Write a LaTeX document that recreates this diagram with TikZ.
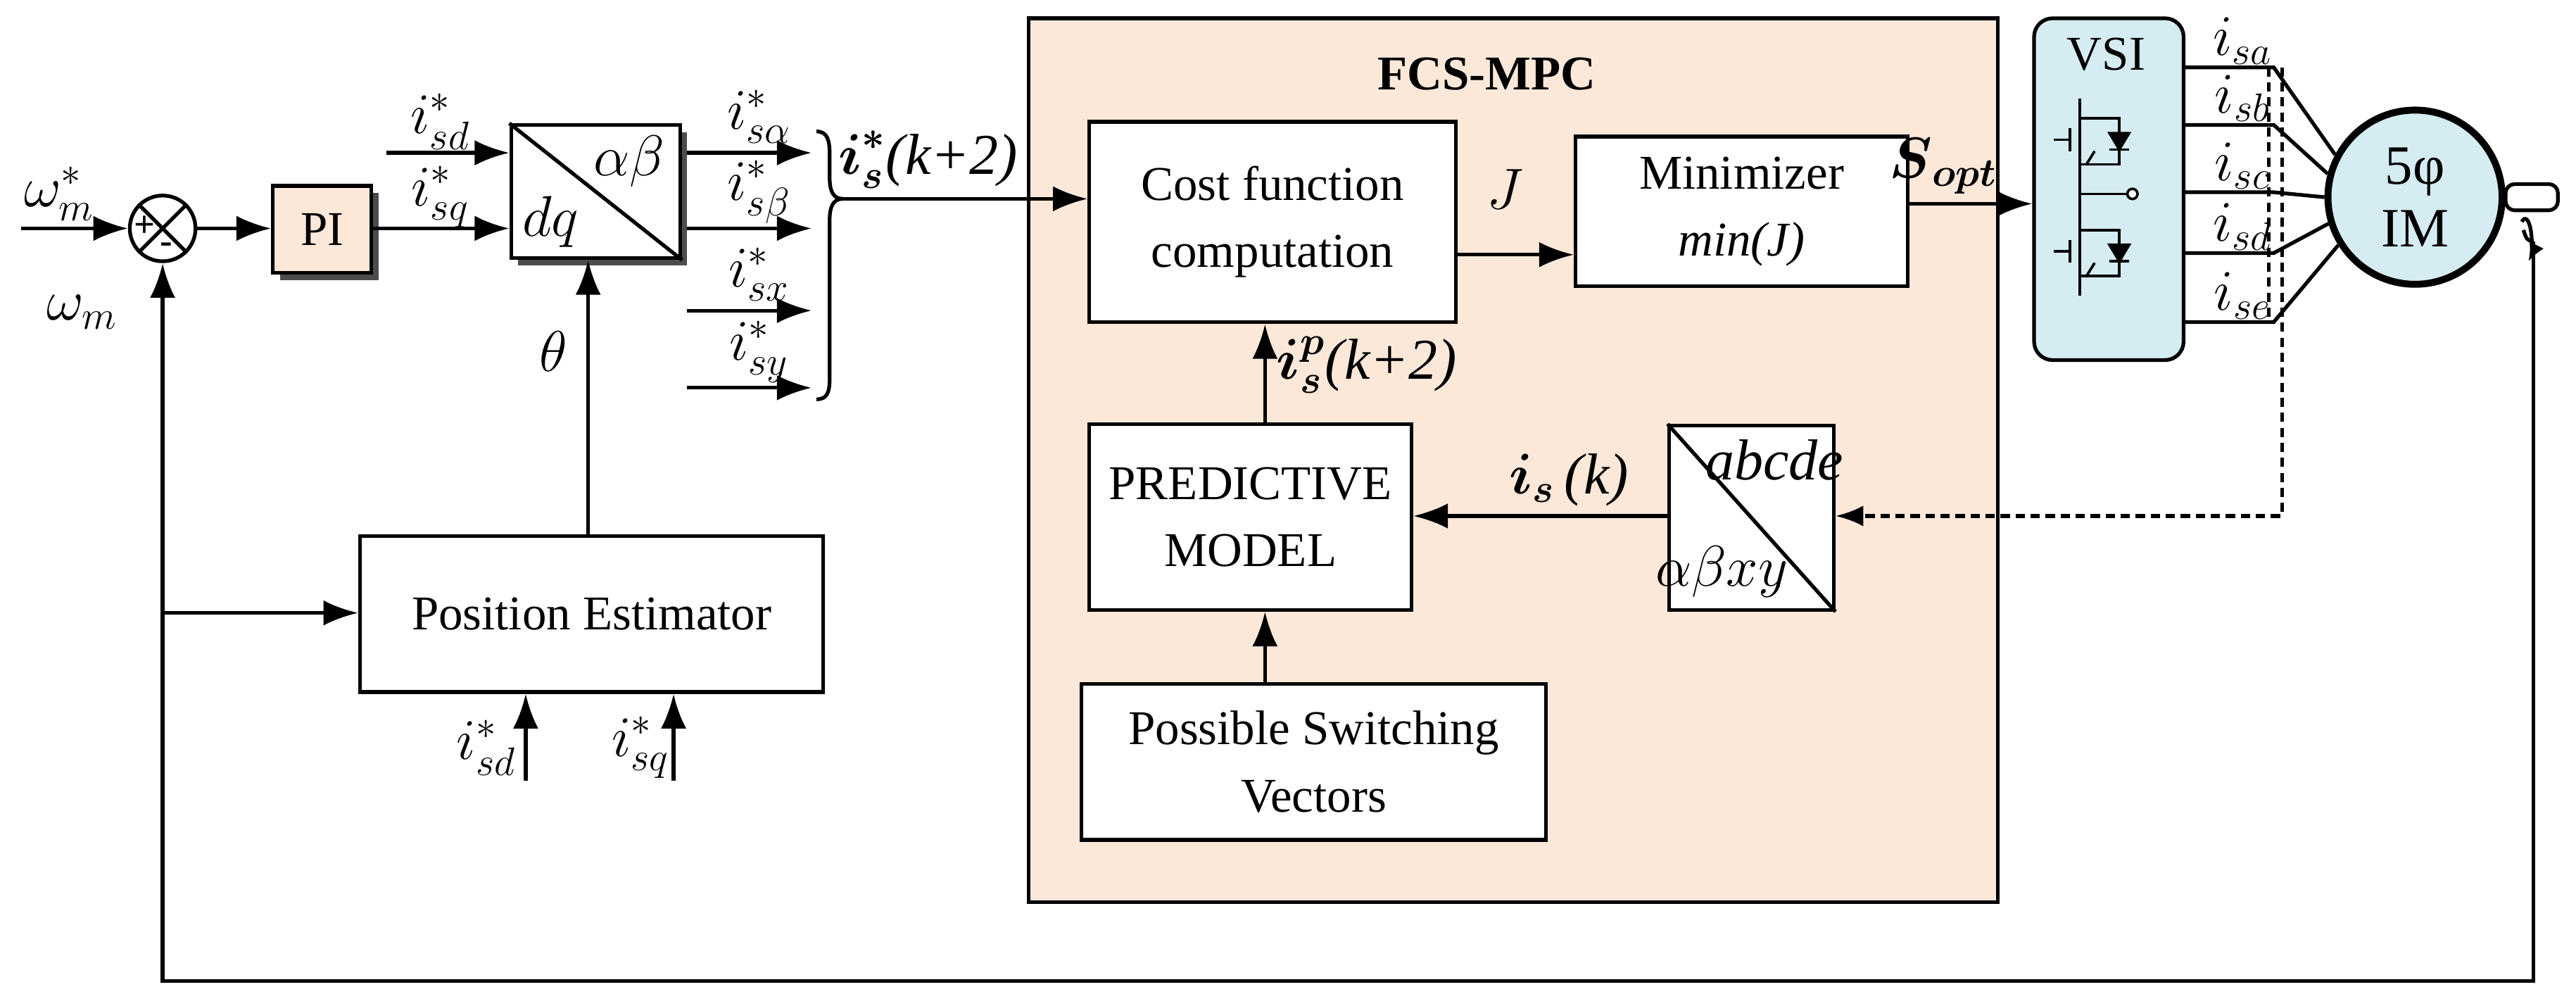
\documentclass[tikz,border=0pt]{standalone}
\usepackage{amsmath}
\usepackage{fontspec}
\setmainfont{Liberation Serif}
\usetikzlibrary{arrows.meta,shadows,calc}
\definecolor{peach}{RGB}{252,232,217}
\definecolor{lblue}{RGB}{212,236,242}
\begin{document}
\begin{tikzpicture}[x=0.25mm,y=-0.25mm,
  font=\fontsize{21}{25}\selectfont,
  lab/.style={font=\fontsize{25}{28}\selectfont},
  lw/.style={line width=1.6pt},
  ar/.style={lw,-{Latex[length=15pt,width=11pt]}},
  blk/.style={draw,lw,fill=white,align=center,inner sep=0pt},
  shd/.style={drop shadow={shadow xshift=3pt,shadow yshift=-3pt,fill=black!70,opacity=1}}]
\useasboundingbox (0,0) rectangle (1568,612);
% FCS-MPC frame
\node[draw,lw,fill=peach,minimum width=590*0.25mm,minimum height=538*0.25mm,anchor=north west] (mpc) at (625,10) {};
\node[font=\fontsize{21}{25}\selectfont\bfseries] (mpct) at (905,45) {FCS-MPC};
% sum
\node[draw,lw,circle,minimum size=40*0.25mm,inner sep=0pt] (sum) at (99,139) {};
\draw[lw] (sum.45)--(sum.225) (sum.135)--(sum.315);
\node[font=\bfseries\fontsize{16}{16}\selectfont] (plus) at (88,138) {+};
\node[font=\bfseries\fontsize{16}{16}\selectfont] (minus) at (101,151) {-};
\coordinate (win) at (13,139);
\node[lab] (wref) at (36,118) {$\omega_m^*$};
\node[lab] (wm) at (50,190) {$\omega_m$};
\draw[ar] (win)--(sum);
% PI
\node[blk,fill=peach,shd,minimum width=60*0.25mm,minimum height=53*0.25mm,anchor=north west] (pi) at (165,112) {};
\node (pit) at (pi.center) {PI};
\draw[ar] (sum.east)--(pi.west|-sum.east);
% dq box
\node[blk,shd,minimum width=103*0.25mm,minimum height=81*0.25mm,anchor=north west] (dq) at (310,75) {};
\draw[lw] (dq.north west)--(dq.south east);
\node[lab] (ab) at (383,98) {$\alpha\beta$};
\node[lab] (dqt) at (335,135) {$dq$};
\coordinate (isdin) at (235,93);
\coordinate (isqin) at (235,139);
\draw[ar] (isdin)--(isdin-|dq.west);
\draw[ar] (pi.east|-isqin)--(isqin-|dq.west);
\node[lab] (lsd) at (268,74) {$i_{sd}^*$};
\node[lab] (lsq) at (268,120) {$i_{sq}^*$};
% outputs
\foreach \y/\n/\t in {93/oa/{\alpha},139/ob/{\beta},189/ox/{x},236/oy/{y}}{
  \coordinate (\n s) at (418,\y); \coordinate (\n e) at (494,\y);
  \draw[ar] (\n s)--(\n e);
  \node[lab] (\n l) at (462,\y-22) {$i_{s\t}^*$};}
% brace
\coordinate (bt) at (513,121);
\draw[lw] (497,80) .. controls (504,80) and (505,86) .. (505,94) -- (505,108) .. controls (505,116) and (507,121) .. (bt) .. controls (507,121) and (505,126) .. (505,134) -- (505,230) .. controls (505,238) and (504,243) .. (497,243);
% cost function
\node[blk,minimum width=223*0.25mm,minimum height=122*0.25mm,anchor=north west] (cost) at (662,73) {Cost function\\[4pt]computation};
\draw[ar] (bt)--(bt-|cost.west);
\node[lab] (isk2) at (565,97) {$\boldsymbol{i}_{\boldsymbol{s}}^{\boldsymbol{*}}$\textit{(k+2)}};
% minimizer
\node[blk,minimum width=202*0.25mm,minimum height=91*0.25mm,anchor=north west] (mini) at (958,82) {Minimizer\\[4pt]\textit{min(J)}};
\draw[ar] (885,155)--(mini.west|-0,155);
\node[lab] (J) at (916,115) {$J$};
% VSI
\node[draw,lw,fill=lblue,rounded corners=8pt,minimum width=91*0.25mm,minimum height=208*0.25mm,anchor=north west] (vsi) at (1237,10) {};
\node (vsit) at (1282,33) {VSI};
\draw[ar] (1160,124)--(vsi.west|-0,124);
\node[lab] (sopt) at (1183,101) {$\boldsymbol{S}_{\boldsymbol{opt}}$};
% switches
\begin{scope}[line width=1.1pt]
\foreach \yo in {0,68}{
  \draw (1266,66+\yo)--(1266,104+\yo);
  \draw (1260,78+\yo)--(1260,92+\yo) (1250,85+\yo)--(1260,85+\yo);
  \draw (1266,72+\yo)--(1290,72+\yo)--(1290,100+\yo)--(1266,100+\yo);
  \draw[fill=black] (1284,81+\yo)--(1296,81+\yo)--(1290,91+\yo)--cycle;
  \draw (1284,91+\yo)--(1296,91+\yo);
  \draw (1275,92+\yo)--(1270,100+\yo);
}
\draw (1266,60)--(1266,66) (1266,172)--(1266,180);
\draw (1266,104)--(1266,134) (1266,118)--(1296,118);
\draw[fill=white] (1298,118) circle (2.2pt);
\end{scope}
% motor
\node[draw,line width=3pt,fill=lblue,circle,minimum size=106*0.25mm,inner sep=0pt,align=center,font=\fontsize{24}{27}\selectfont] (mot) at (1470,120) {5φ\\IM};
\foreach \y/\n/\t/\a in {41/a/a/152,76/b/b/165,117/c/c/180,154/d/d/197,196/e/e/212}{
  \coordinate (j\n) at (1384,\y);
  \draw[lw] (vsi.east|-j\n)--(j\n)--(mot.\a);
  \node[lab] (l\n) at (1365,\y-16) {$i_{s\t}$};}
% shaft
\draw[lw,rounded corners=4pt] (mot.east|-0,112) rectangle (1557,128);
\draw[lw,-{Latex[length=8pt,width=7pt]}] (1535,135) arc (-120:60:4 and 14);
\coordinate (fb) at (1542,147);
\draw[lw] (1536,140) .. controls (1538,146) .. (fb);
\draw[ar] (fb)--(1542,597)--(99,597)--(sum.south);
% dashed measurement
\draw[lw,dashed,dash pattern=on 4pt off 2.5pt] (1381,41)--(1381,196);
% abcde
\node[blk,minimum width=100*0.25mm,minimum height=112*0.25mm,anchor=north west] (abc) at (1015,258) {};
\draw[lw] (abc.north west)--(abc.south east);
\node[lab] (abct) at (1080,280) {\textit{abcde}};
\node[lab] (abxy) at (1048,348) {$\alpha\beta xy$};
\draw[lw,dashed,dash pattern=on 4pt off 2.5pt,-{Latex[length=12pt,width=9pt]}] (1389,41)--(1389,314)--(abc.east|-0,314);
% predictive
\node[blk,minimum width=196*0.25mm,minimum height=113*0.25mm,anchor=north west] (pred) at (662,257) {PREDICTIVE\\[4pt]MODEL};
\draw[ar] (abc.west|-0,314)--(pred.east|-0,314);
\node[lab] (isk) at (955,292) {$\boldsymbol{i}_{\boldsymbol{s}}$\,\textit{(k)}};
\draw[ar] (pred.north-|770,0)--(cost.south-|770,0);
\node[lab] (ispk) at (832,222) {$\boldsymbol{i}_{\boldsymbol{s}}^{\boldsymbol{p}}$\textit{(k+2)}};
% switching vectors
\node[blk,minimum width=283*0.25mm,minimum height=95*0.25mm,anchor=north west] (psv) at (657,415) {Possible Switching\\[4pt]Vectors};
\draw[ar] (psv.north-|770,0)--(pred.south-|770,0);
% position estimator
\node[blk,minimum width=282*0.25mm,minimum height=95*0.25mm,anchor=north west] (pos) at (218,325) {Position Estimator};
\draw[ar] (pos.north-|358,0)--(dq.south-|358,0);
\node[lab] (th) at (337,214) {$\theta$};
\coordinate (br) at (99,373);
\draw[ar] (br)--(pos.west|-br);
\coordinate (pa) at (320,475); \coordinate (pb) at (410,475);
\draw[ar] (pa)--(pa|-pos.south);
\draw[ar] (pb)--(pb|-pos.south);
\node[lab] (psd) at (296,455) {$i_{sd}^*$};
\node[lab] (psq) at (390,455) {$i_{sq}^*$};
\end{tikzpicture}
\end{document}
